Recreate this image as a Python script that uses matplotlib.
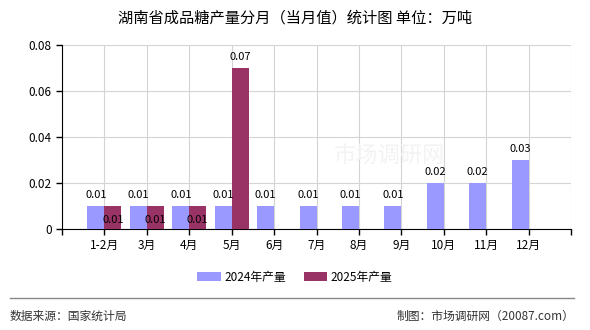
import matplotlib
matplotlib.use("Agg")
import matplotlib.pyplot as plt
import numpy as np

plt.rcParams['font.family'] = ['Noto Sans CJK SC', 'DejaVu Sans']

months = ["1-2月", "3月", "4月", "5月", "6月", "7月", "8月", "9月", "10月", "11月", "12月"]
prod_2024 = [0.01, 0.01, 0.01, 0.01, 0.01, 0.01, 0.01, 0.01, 0.02, 0.02, 0.03]
prod_2025 = [0.01, 0.01, 0.01, 0.07]

C_2024 = "#9999FF"
C_2025 = "#993366"

fig = plt.figure(figsize=(5.9, 3.3), dpi=100)
ax = fig.add_axes([62 / 590, 1 - 229 / 330, (571 - 62) / 590, (229 - 45) / 330])

x = np.arange(len(months))
w = 0.4
ax.bar(x - w / 2, prod_2024, width=w, color=C_2024, label="2024年产量", zorder=3)
x25 = np.arange(len(prod_2025))
ax.bar(x25 + w / 2, prod_2025, width=w, color=C_2025, label="2025年产量", zorder=3)

# value labels
for xi, v in zip(x, prod_2024):
    ax.text(xi - w / 2, v + 0.0025, f"{v:.2f}", ha="center", va="bottom", fontsize=8, zorder=4)
for xi, v in zip(x25, prod_2025):
    if v <= 0.01:
        ax.text(xi + w / 2, v - 0.006, f"{v:.2f}", ha="center", va="center", fontsize=8, zorder=4)
    else:
        ax.text(xi + w / 2, v + 0.0025, f"{v:.2f}", ha="center", va="bottom", fontsize=8, zorder=4)

ax.set_xlim(-1, len(months))
ax.set_ylim(0, 0.08)
ax.set_xticks(np.arange(-1, len(months) + 1))
ax.set_xticklabels([""] + months + [""], fontsize=8.5)
ax.set_yticks([0, 0.02, 0.04, 0.06, 0.08])
ax.set_yticklabels(["0", "0.02", "0.04", "0.06", "0.08"], fontsize=8.5)
ax.tick_params(axis="both", length=4, width=1, color="black")
ax.grid(True, color="#d4d4d4", linewidth=0.8, zorder=0)
ax.spines["top"].set_visible(False)
ax.spines["right"].set_visible(False)
ax.spines["left"].set_color("black")
ax.spines["bottom"].set_color("black")

# faint watermark
fig.text(0.66, 0.53, "市场调研网", fontsize=16, color="#f3f3f3", ha="center", va="center", zorder=0)

fig.text(0.5, 1 - 18 / 330, "湖南省成品糖产量分月（当月值）统计图 单位：万吨", ha="center", va="center", fontsize=11)

ax.legend(loc="center", bbox_to_anchor=(0.5, 1 - 277 / 330), bbox_transform=fig.transFigure,
          ncol=2, frameon=False, fontsize=8.5, handlelength=2.0, handleheight=0.8, columnspacing=1.5,
          handletextpad=0.3)

fig.add_artist(plt.Line2D([10 / 590, 574 / 590], [1 - 298 / 330, 1 - 298 / 330], color="#888888", linewidth=1))
fig.text(10 / 590, 1 - 316 / 330, "数据来源：国家统计局", ha="left", va="center", fontsize=8.5, color="#333333")
fig.text(574 / 590, 1 - 316 / 330, "制图：市场调研网（20087.com）", ha="right", va="center", fontsize=8.5, color="#333333")

fig.savefig("out.png", dpi=100)
